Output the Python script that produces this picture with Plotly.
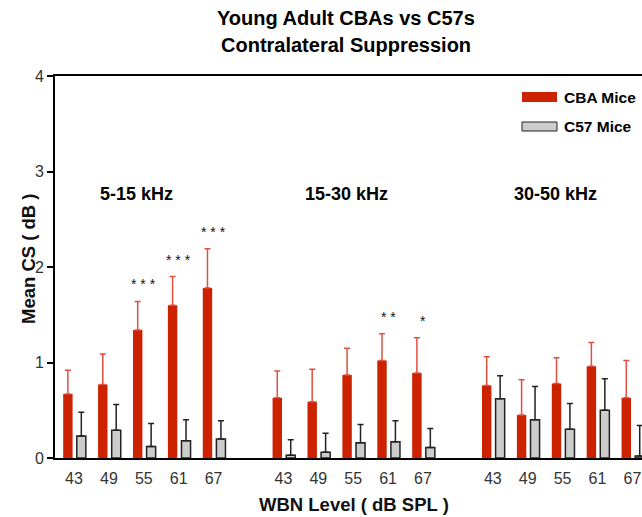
import plotly.graph_objects as go

# Contralateral suppression, young adult CBA vs C57 mice
levels = [43, 49, 55, 61, 67]
bands = ["5-15 kHz", "15-30 kHz", "30-50 kHz"]

cba_mean = [0.67, 0.77, 1.34, 1.60, 1.78,
            0.63, 0.59, 0.87, 1.02, 0.89,
            0.76, 0.45, 0.78, 0.96, 0.63]
cba_sem = [0.25, 0.32, 0.30, 0.30, 0.41,
           0.28, 0.34, 0.28, 0.28, 0.37,
           0.30, 0.37, 0.27, 0.25, 0.39]
c57_mean = [0.23, 0.29, 0.12, 0.18, 0.20,
            0.03, 0.06, 0.16, 0.17, 0.11,
            0.62, 0.40, 0.30, 0.50, 0.02]
c57_sem = [0.25, 0.27, 0.24, 0.22, 0.19,
           0.16, 0.20, 0.19, 0.22, 0.20,
           0.24, 0.35, 0.27, 0.33, 0.32]
significance = ["", "", "***", "***", "***",
                "", "", "", "**", "*",
                "", "", "", "", ""]

RED = "#CC2200"
GREY = "#CCCCCC"
FONT = "Liberation Sans, Arial, sans-serif"

# x position: one slot per level, one empty slot between bands
xpos = [b * 6 + i for b in range(len(bands)) for i in range(len(levels))]
ticktext = [str(lv) for _ in bands for lv in levels]

fig = go.Figure()
fig.add_trace(go.Bar(
    x=xpos, y=cba_mean, width=0.27, offset=-0.31,
    marker=dict(color=RED, line=dict(width=0)),
    error_y=dict(type="data", symmetric=False, array=cba_sem,
                 arrayminus=[0] * len(cba_sem), color="#E05040",
                 thickness=1.5, width=3),
    name="CBA Mice", showlegend=False,
))
fig.add_trace(go.Bar(
    x=xpos, y=c57_mean, width=0.26, offset=0.08,
    marker=dict(color=GREY, line=dict(width=1.5, color="#222222")),
    error_y=dict(type="data", symmetric=False, array=c57_sem,
                 arrayminus=[0] * len(c57_sem), color="#222222",
                 thickness=1.5, width=3),
    name="C57 Mice", showlegend=False,
))

# significance stars above the CBA error bars
for x, m, s, sig in zip(xpos, cba_mean, cba_sem, significance):
    if sig:
        fig.add_annotation(x=x, y=m + s, yanchor="bottom", yshift=7,
                           text=" ".join(sig), showarrow=False,
                           font=dict(family=FONT, size=14, color="#111111"))

# frequency band labels
for b, name in enumerate(bands):
    fig.add_annotation(x=b * 6 + 1.8, y=2.76, text="<b>%s</b>" % name, showarrow=False,
                       font=dict(family=FONT, size=18, color="#000000"),
                       xanchor="center", yanchor="middle")

# pixel helpers for items placed on the page
px_to_xp = lambda px: (px - 55) / 587
py_to_yp = lambda py: (458 - py) / 382

# legend drawn as swatches + labels
fig.add_shape(type="rect", xref="paper", yref="paper",
              x0=px_to_xp(522), x1=px_to_xp(557), y0=py_to_yp(102), y1=py_to_yp(92),
              fillcolor=RED, line=dict(width=0))
fig.add_shape(type="rect", xref="paper", yref="paper",
              x0=px_to_xp(522), x1=px_to_xp(557), y0=py_to_yp(131), y1=py_to_yp(122),
              fillcolor=GREY, line=dict(width=1, color="#222222"))
for py, label in [(97, "CBA Mice"), (127, "C57 Mice")]:
    fig.add_annotation(xref="paper", yref="paper", x=px_to_xp(562), y=py_to_yp(py),
                       text="<b>%s</b>" % label, showarrow=False, xanchor="left",
                       yanchor="middle",
                       font=dict(family=FONT, size=15.5, color="#000000"))

# two-line title
for py, line in [(18, "Young Adult CBAs vs C57s"), (45, "Contralateral Suppression")]:
    fig.add_annotation(xref="paper", yref="paper", x=px_to_xp(345.5), y=py_to_yp(py),
                       text="<b>%s</b>" % line, showarrow=False, xanchor="center",
                       yanchor="middle",
                       font=dict(family=FONT, size=20, color="#000000"))

# axis titles
fig.add_annotation(xref="paper", yref="paper", x=px_to_xp(354), y=py_to_yp(504),
                   text="<b>WBN Level ( dB SPL )</b>", showarrow=False,
                   xanchor="center", yanchor="middle",
                   font=dict(family=FONT, size=18.5, color="#111111"))
fig.add_annotation(xref="paper", yref="paper", x=px_to_xp(28), y=py_to_yp(259),
                   text="<b>Mean CS ( dB )</b>", showarrow=False, textangle=-90,
                   xanchor="center", yanchor="middle",
                   font=dict(family=FONT, size=18.5, color="#111111"))

fig.update_layout(
    width=642, height=517,
    margin=dict(l=55, r=0, t=76, b=59),
    paper_bgcolor="white", plot_bgcolor="white",
    barmode="overlay",
    font=dict(family=FONT),
    xaxis=dict(
        range=[-0.544, 16.275], tickvals=xpos, ticktext=ticktext,
        showgrid=False, zeroline=False, showline=True, mirror=True,
        linecolor="#000000", linewidth=2,
        ticks="outside", ticklen=5, tickcolor="rgba(0,0,0,0)",
        tickfont=dict(family=FONT, size=16, color="#333333"),
    ),
    yaxis=dict(
        range=[0, 4], tickvals=[0, 1, 2, 3, 4],
        showgrid=False, zeroline=False, showline=True,
        linecolor="#000000", linewidth=2,
        ticks="outside", ticklen=6, tickwidth=2, tickcolor="#000000",
        tickfont=dict(family=FONT, size=16, color="#333333"),
    ),
)

fig.write_html("out.html")
